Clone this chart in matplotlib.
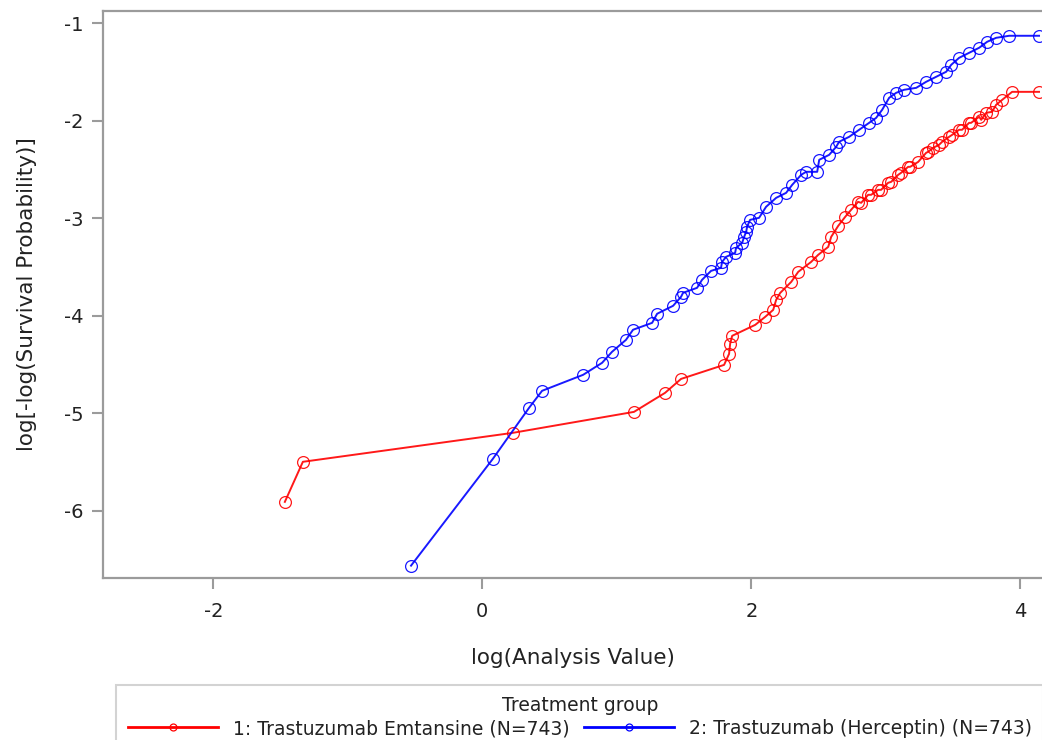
import matplotlib
matplotlib.use("Agg")
import matplotlib.pyplot as plt
from matplotlib.lines import Line2D

plt.rcParams['font.family'] = ['DejaVu Sans']
plt.rcParams['axes.unicode_minus'] = False

# log(Analysis Value) / log[-log(S)] for each arm
t_dm1_x = [-1.468, -1.334, 0.227, 1.127, 1.358, 1.477, 1.797, 1.834, 1.842, 1.857,
           2.028, 2.102, 2.162, 2.184, 2.214, 2.296, 2.348, 2.444, 2.496, 2.571,
           2.593, 2.645, 2.697, 2.741, 2.793, 2.816, 2.868, 2.890, 2.942, 2.964,
           3.016, 3.039, 3.091, 3.113, 3.165, 3.180, 3.240, 3.299, 3.314, 3.351,
           3.395, 3.418, 3.470, 3.492, 3.544, 3.566, 3.618, 3.633, 3.693, 3.708,
           3.745, 3.789, 3.819, 3.864, 3.938, 4.138]
t_dm1_y = [-5.910, -5.499, -5.202, -4.987, -4.792, -4.649, -4.505, -4.392, -4.289, -4.207,
           -4.095, -4.013, -3.941, -3.838, -3.767, -3.654, -3.551, -3.449, -3.377, -3.295,
           -3.192, -3.080, -2.987, -2.915, -2.833, -2.843, -2.761, -2.761, -2.710, -2.710,
           -2.638, -2.628, -2.556, -2.535, -2.474, -2.474, -2.423, -2.330, -2.320, -2.279,
           -2.248, -2.217, -2.166, -2.146, -2.094, -2.094, -2.023, -2.023, -1.961, -1.992,
           -1.920, -1.910, -1.838, -1.787, -1.705, -1.705]

herc_x = [-0.530, 0.079, 0.347, 0.444, 0.749, 0.890, 0.964, 1.068, 1.120, 1.262,
          1.299, 1.418, 1.477, 1.492, 1.596, 1.633, 1.700, 1.774, 1.782, 1.812,
          1.879, 1.886, 1.931, 1.946, 1.961, 1.968, 1.990, 2.057, 2.109, 2.184,
          2.258, 2.303, 2.370, 2.407, 2.489, 2.504, 2.578, 2.630, 2.652, 2.727,
          2.801, 2.875, 2.927, 2.972, 3.024, 3.076, 3.135, 3.225, 3.299, 3.373,
          3.448, 3.485, 3.544, 3.618, 3.693, 3.752, 3.819, 3.916, 4.138]
herc_y = [-6.564, -5.467, -4.946, -4.771, -4.607, -4.484, -4.371, -4.248, -4.145, -4.074,
          -3.981, -3.899, -3.807, -3.766, -3.715, -3.633, -3.541, -3.510, -3.449, -3.397,
          -3.356, -3.305, -3.254, -3.192, -3.141, -3.089, -3.018, -2.997, -2.884, -2.792,
          -2.741, -2.659, -2.556, -2.525, -2.525, -2.402, -2.351, -2.269, -2.217, -2.166,
          -2.094, -2.023, -1.972, -1.889, -1.766, -1.715, -1.684, -1.664, -1.602, -1.551,
          -1.499, -1.428, -1.356, -1.305, -1.253, -1.192, -1.151, -1.130, -1.130]

labels = ["1: Trastuzumab Emtansine (N=743)", "2: Trastuzumab (Herceptin) (N=743)"]
colors = ["#ff0000", "#0000ff"]
x_ticks = [-2, 0, 2, 4]
y_ticks = [-1, -2, -3, -4, -5, -6]

gray = "#9b9b9b"
txt = "#222222"

fig = plt.figure(figsize=(10.42, 7.40), dpi=100)
ax = fig.add_axes([0.0988, 0.219, 0.9012, 0.766])

for xs, ys, c in [(t_dm1_x, t_dm1_y, colors[0]), (herc_x, herc_y, colors[1])]:
    ax.plot(xs, ys, color=c, linewidth=1.4, marker='o', markersize=8.5,
            markerfacecolor='none', markeredgecolor=c, markeredgewidth=0.9,
            alpha=0.9, clip_on=False)

ax.set_xlim(-2.82, 4.16)
ax.set_ylim(-6.69, -0.877)
ax.set_xticks(x_ticks)
ax.set_yticks(y_ticks)
ax.tick_params(axis='both', direction='out', length=8, width=1.5, color=gray,
               labelsize=14, labelcolor=txt)
ax.tick_params(axis='y', pad=6)
ax.tick_params(axis='x', pad=9)

for side in ['left', 'bottom', 'top']:
    ax.spines[side].set_color(gray)
    ax.spines[side].set_linewidth(1.6)
ax.spines['right'].set_visible(False)

ax.set_xlabel("log(Analysis Value)", fontsize=15.5, color=txt, labelpad=20)
ax.set_ylabel("log[-log(Survival Probability)]", fontsize=15.5, color=txt, labelpad=19)

handles = [Line2D([], [], color=c, linewidth=2, marker='o', markersize=5,
                  markerfacecolor='none', markeredgewidth=0.9) for c in colors]
leg = fig.legend(handles, labels, loc='upper center', bbox_to_anchor=(0.5565, 0.0743),
                 ncol=2, title="Treatment group", fontsize=13.5, title_fontsize=13.5,
                 frameon=True, fancybox=False, edgecolor='#c8c8c8',
                 handlelength=4.8, handletextpad=0.8, columnspacing=0.8,
                 borderpad=0.6, labelspacing=0.2, borderaxespad=0)
leg.get_frame().set_linewidth(1.5)
leg.get_title().set_color(txt)
for t in leg.get_texts():
    t.set_color(txt)

fig.savefig("out.png", dpi=100)
